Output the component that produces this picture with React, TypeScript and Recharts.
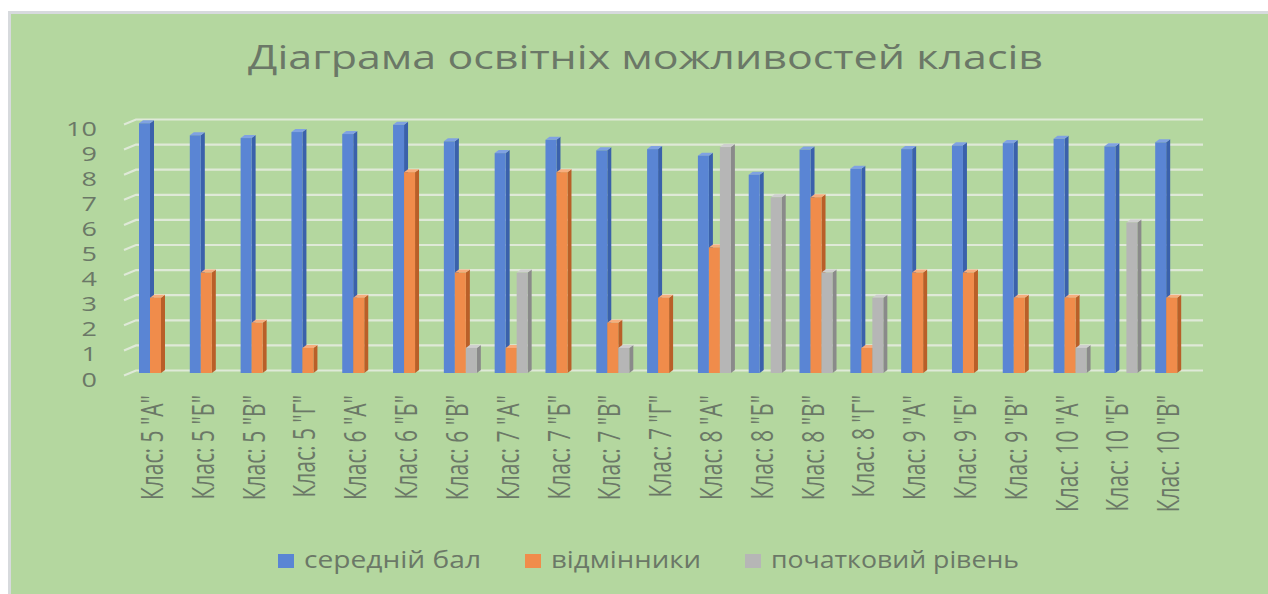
import React from "react";
import { BarChart, Bar, XAxis, YAxis, CartesianGrid, Legend } from "recharts";

const classes = [
  'Клас: 5 "А"', 'Клас: 5 "Б"', 'Клас: 5 "В"', 'Клас: 5 "Г"',
  'Клас: 6 "А"', 'Клас: 6 "Б"', 'Клас: 6 "В"',
  'Клас: 7 "А"', 'Клас: 7 "Б"', 'Клас: 7 "В"', 'Клас: 7 "Г"',
  'Клас: 8 "А"', 'Клас: 8 "Б"', 'Клас: 8 "В"', 'Клас: 8 "Г"',
  'Клас: 9 "А"', 'Клас: 9 "Б"', 'Клас: 9 "В"',
  'Клас: 10 "А"', 'Клас: 10 "Б"', 'Клас: 10 "В"',
];

const avgScore = [9.95, 9.47, 9.36, 9.6, 9.52, 9.89, 9.23, 8.76, 9.29, 8.87, 8.92, 8.66, 7.9, 8.9, 8.14, 8.92, 9.07, 9.16, 9.33, 9.03, 9.19];
const excellent = [3, 4, 2, 1, 3, 8, 4, 1, 8, 2, 3, 5, 0, 7, 1, 4, 4, 3, 3, 0, 3];
const initialLevel = [0, 0, 0, 0, 0, 0, 1, 4, 0, 1, 0, 9, 7, 4, 3, 0, 0, 0, 1, 6, 0];

const yTicks = [0, 1, 2, 3, 4, 5, 6, 7, 8, 9, 10];

const series = [
  { key: "avg", name: "середній бал", color: "#5a85d4", side: "#3a61ab", top: "#80a2e2" },
  { key: "exc", name: "відмінники", color: "#f08c4b", side: "#b95f28", top: "#f7ae7e" },
  { key: "init", name: "початковий рівень", color: "#b6b6b6", side: "#8a8a8a", top: "#cfcfcf" },
];

const data = classes.map((name, i) => ({
  name,
  avg: avgScore[i],
  exc: excellent[i],
  init: initialLevel[i],
}));

const TEXT = "#6b7867";
const FONT = "'Open Sans', 'DejaVu Sans', sans-serif";
const SHIFT = -6; // 3D perspective shift of the bars toward the front edge
const DEPTH = 4;
const RISE = 3;

function makeShape(front: string, side: string, top: string) {
  return (props: any) => {
    const { x, y, width, height } = props;
    if (!height || height <= 0) return <g />;
    const L = x + SHIFT;
    const R = L + width;
    const B = y + height;
    return (
      <g>
        <polygon points={`${R},${y} ${R + DEPTH},${y - RISE} ${R + DEPTH},${B - RISE} ${R},${B}`} fill={side} />
        <polygon points={`${L},${y} ${L + DEPTH},${y - RISE} ${R + DEPTH},${y - RISE} ${R},${y}`} fill={top} />
        <rect x={L} y={y} width={width} height={height} fill={front} />
      </g>
    );
  };
}

function GridLine(props: any) {
  const { x1, x2, y1, index } = props;
  const yb = y1 - 2.5;
  return (
    <path
      key={`g-${index}`}
      d={`M ${x1 - 12} ${yb + 5} L ${x1} ${yb} L ${x2} ${yb}`}
      stroke="#dfe9d8"
      strokeWidth={2.2}
      fill="none"
    />
  );
}

function YTick(props: any) {
  const { x, y, payload } = props;
  return (
    <text
      transform={`translate(${x - 31},${y + 6}) scale(1.35,1)`}
      textAnchor="end"
      dominantBaseline="central"
      fontSize={20}
      fontFamily={FONT}
      fill={TEXT}
    >
      {payload.value}
    </text>
  );
}

function XTick(props: any) {
  const { x, y, payload } = props;
  return (
    <text
      transform={`translate(${x - 10},${y + 14}) scale(1.45,1) rotate(-90)`}
      textAnchor="end"
      dominantBaseline="central"
      fontSize={21}
      fontFamily={FONT}
      fill={TEXT}
    >
      {payload.value}
    </text>
  );
}

const legendTextWidths = [177, 150, 248];

function LegendContent() {
  let cx = 278;
  const items = series.map((s, i) => {
    const sx = cx;
    const tx = sx + 16 + 10;
    cx = tx + legendTextWidths[i] + 44;
    return (
      <g key={s.key}>
        <rect x={sx} y={14} width={16} height={14} fill={s.color} />
        <text
          x={tx}
          y={28}
          fontSize={23}
          fontFamily={FONT}
          fill={TEXT}
          textLength={legendTextWidths[i]}
          lengthAdjust="spacingAndGlyphs"
        >
          {s.name}
        </text>
      </g>
    );
  });
  return (
    <svg width={1268} height={45} style={{ display: "block" }}>
      {items}
    </svg>
  );
}

export default function App() {
  return (
    <div style={{ position: "fixed", left: 0, top: 0, width: 1268, height: 594, background: "#ffffff", overflow: "hidden" }}>
      <div
        style={{
          position: "absolute",
          left: 8,
          top: 11,
          width: 1260,
          height: 583,
          background: "#b4d79f",
          borderTop: "3px solid #d7dadd",
          borderLeft: "3px solid #d7dadd",
          boxSizing: "border-box",
        }}
      />
      <svg width={1268} height={100} style={{ position: "absolute", left: 0, top: 0 }}>
        <text
          x={248}
          y={69}
          fontSize={32}
          fontFamily={FONT}
          fill={TEXT}
          textLength={795}
          lengthAdjust="spacingAndGlyphs"
        >
          Діаграма освітніх можливостей класів
        </text>
      </svg>
      <div style={{ position: "absolute", left: 0, top: 0 }}>
        <BarChart
          width={1268}
          height={594}
          data={data}
          margin={{ top: 122, right: 65, bottom: 61, left: 76 }}
          barSize={11}
          barGap={0}
        >
          <CartesianGrid vertical={false} horizontal={GridLine} />
          <XAxis dataKey="name" interval={0} tickLine={false} axisLine={false} height={160} tick={<XTick />} />
          <YAxis
            domain={[0, 10]}
            ticks={yTicks}
            interval={0}
            width={60}
            axisLine={false}
            tickLine={false}
            tick={<YTick />}
          />
          <Legend
            layout="horizontal"
            verticalAlign="middle"
            align="center"
            content={<LegendContent />}
            wrapperStyle={{ top: 540, left: 0, width: 1268, height: 45 }}
          />
          {series.map((s) => (
            <Bar
              key={s.key}
              dataKey={s.key}
              name={s.name}
              fill={s.color}
              isAnimationActive={false}
              shape={makeShape(s.color, s.side, s.top)}
            />
          ))}
        </BarChart>
      </div>
    </div>
  );
}
